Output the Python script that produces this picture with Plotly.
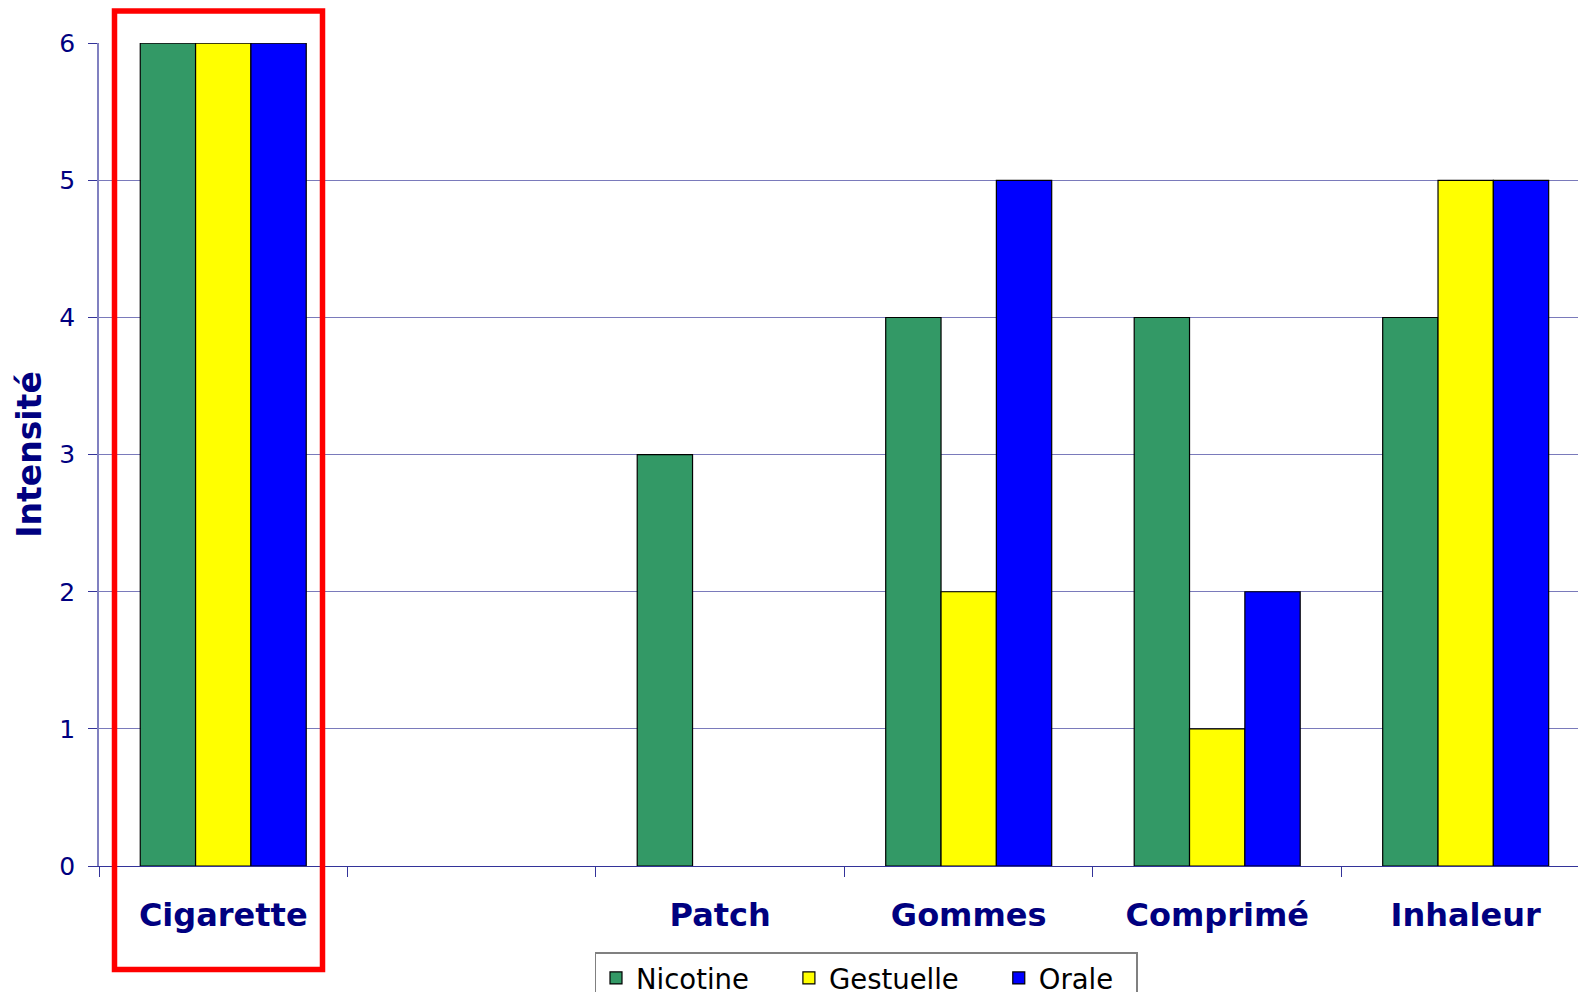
import plotly.graph_objects as go

# Intensité des composantes de la dépendance selon le mode de nicotine
categories = ["Cigarette", " ", "Patch", "Gommes", "Comprimé", "Inhaleur"]
series_names = ["Nicotine", "Gestuelle", "Orale"]
nicotine = [6, None, 3, 4, 4, 4]
gestuelle = [6, None, None, 2, 1, 5]
orale = [6, None, None, 5, 2, 5]
y_ticks = [0, 1, 2, 3, 4, 5, 6]

navy = "#000080"
font_family = "Verdana, DejaVu Sans, sans-serif"
W, H = 1578, 992
plot_left, plot_top, plot_bottom = 99, 43, 866.5
plot_w = W - plot_left
plot_h = plot_bottom - plot_top

fig = go.Figure()
pad = "\u00a0" * 4
for i, (name, vals, color) in enumerate(zip(
        series_names, [nicotine, gestuelle, orale],
        ["#339966", "#FFFF00", "#0000FF"])):
    label = name + (pad if i < 2 else "\u00a0" * 2)
    fig.add_trace(go.Bar(
        x=categories, y=vals, name=label,
        marker=dict(color=color, line=dict(color="#000000", width=1.2)),
    ))

fig.update_layout(
    width=W, height=H,
    margin=dict(l=plot_left, r=0, t=plot_top, b=H - plot_bottom, autoexpand=False),
    paper_bgcolor="white", plot_bgcolor="white",
    barmode="group", bargap=0.332, bargroupgap=0,
    font=dict(family=font_family, color=navy),
    showlegend=True,
    legend=dict(
        orientation="h", xref="container", yref="container",
        x=866 / W, xanchor="center", y=(H - 952) / H, yanchor="top",
        font=dict(size=27.5, color="#000000"),
        bordercolor="#808080", borderwidth=1.5, bgcolor="white",
    ),
    xaxis=dict(
        type="category", categoryorder="array", categoryarray=categories,
        range=[-0.5, 5.452],
        tickson="boundaries", ticks="outside", ticklen=10, tickcolor="#333399",
        showline=True, linecolor="#333399", linewidth=1.2,
        showgrid=False,
        tickfont=dict(size=32, color=navy, family=font_family, weight="bold"),
        ticklabelstandoff=20,
    ),
    yaxis=dict(
        range=[0, 6.002], tickvals=y_ticks, ticks="outside", ticklen=9,
        tickcolor="#333399",
        showline=True, linecolor="#8080c0", linewidth=1.5,
        showgrid=True, gridcolor="#7a7abb", gridwidth=1,
        zeroline=False,
        tickfont=dict(size=25, color=navy, family=font_family),
        ticklabelstandoff=8,
        title=dict(text="<b>Intensité</b>", font=dict(size=33, color=navy), standoff=8),
    ),
)

# Cadre rouge autour de la cigarette
fig.add_shape(
    type="rect", xref="paper", yref="paper",
    x0=(114.5 - plot_left) / plot_w, x1=(322.5 - plot_left) / plot_w,
    y0=(plot_bottom - 970) / plot_h, y1=(plot_bottom - 11) / plot_h,
    line=dict(color="#FF0000", width=5.5), fillcolor="rgba(0,0,0,0)",
    layer="above",
)

fig.write_html("out.html")
